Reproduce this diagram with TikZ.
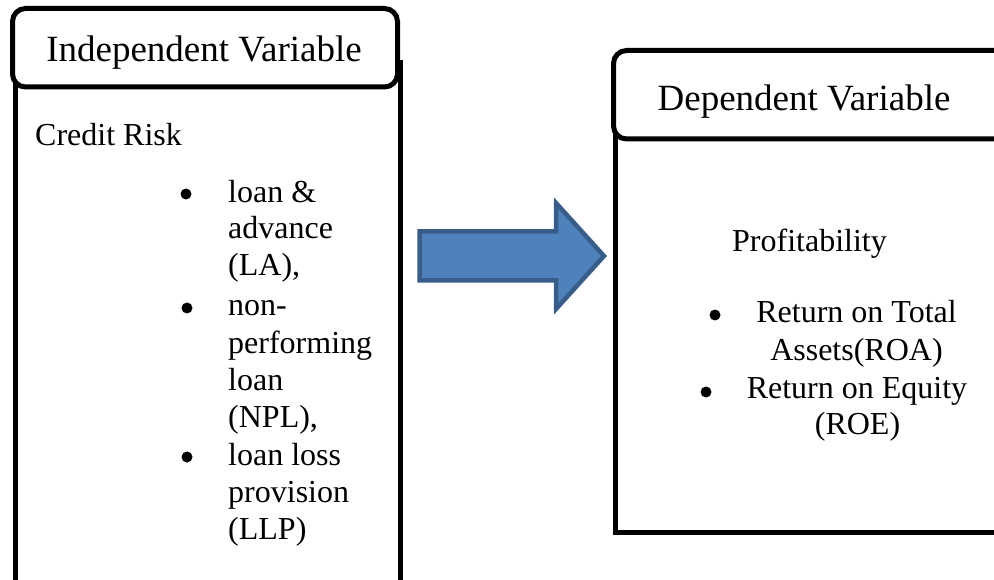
\documentclass[tikz,border=0pt]{standalone}
\usepackage{fontspec}
\setmainfont{Liberation Serif}
\definecolor{arrowfill}{HTML}{4F81BD}
\definecolor{arrowline}{HTML}{385D8A}
\tikzset{
  boxline/.style={draw=black, line width=5pt},
  titlebox/.style={boxline, fill=white, rounded corners=13pt},
  titletext/.style={inner sep=0pt, anchor=base, font=\fontsize{37}{42}\selectfont},
  bodytext/.style={inner sep=0pt, anchor=base west, font=\fontsize{32}{37}\selectfont},
  bodycenter/.style={inner sep=0pt, anchor=base, font=\fontsize{32}{37}\selectfont},
  dot/.style={circle, fill=black, inner sep=0pt, minimum size=11pt},
  bigarrow/.style={fill=arrowfill, draw=arrowline, line width=4.5pt, line join=miter}
}
\begin{document}
\begin{tikzpicture}[x=1pt, y=-1pt]
\useasboundingbox (0,0) rectangle (994,580);
\begin{scope}
\clip (0,0) rectangle (994,580);
% left panel
\draw[boxline] (15,60) -- (15,600) (400,60) -- (400,600);
\draw[titlebox] (12.5,8.5) rectangle (397.5,87);
\node[titletext] (lt) at (204,62) {Independent Variable};
\node[bodytext] (cr) at (35,146) {Credit Risk};
\node[dot] (b1) at (186,194) {};
\node[dot] (b2) at (187,308) {};
\node[dot] (b3) at (187,457) {};
\node[bodytext] (l1) at (228,203) {loan \&};
\node[bodytext] (l2) at (228,239) {advance};
\node[bodytext] (l3) at (228,276) {(LA),};
\node[bodytext] (l4) at (228,316) {non-};
\node[bodytext] (l5) at (228,353) {performing};
\node[bodytext] (l6) at (228,390) {loan};
\node[bodytext] (l7) at (228,427) {(NPL),};
\node[bodytext] (l8) at (228,465) {loan loss};
\node[bodytext] (l9) at (228,502) {provision};
\node[bodytext] (l10) at (228,539) {(LLP)};
% arrow
\draw[bigarrow] (419.5,231.5) -- (556,231.5) -- (556,203) -- (604,256) -- (556,309) -- (556,280.5) -- (419.5,280.5) -- cycle;
% right panel
\draw[boxline] (1010,100) -- (615.5,100) -- (615.5,532) -- (1010,532);
\draw[titlebox] (613.5,50.5) rectangle (1010,139);
\node[titletext] (rt) at (804,111) {Dependent Variable};
\node[bodytext] (pr) at (732,252) {Profitability};
\node[dot] (r1) at (715,315) {};
\node[dot] (r2) at (706,392) {};
\node[bodycenter] (m1) at (856.5,323) {Return on Total};
\node[bodycenter] (m2) at (856.5,360) {Assets(ROA)};
\node[bodycenter] (m3) at (857,398) {Return on Equity};
\node[bodycenter] (m4) at (857.5,434) {(ROE)};
\end{scope}
\end{tikzpicture}
\end{document}
